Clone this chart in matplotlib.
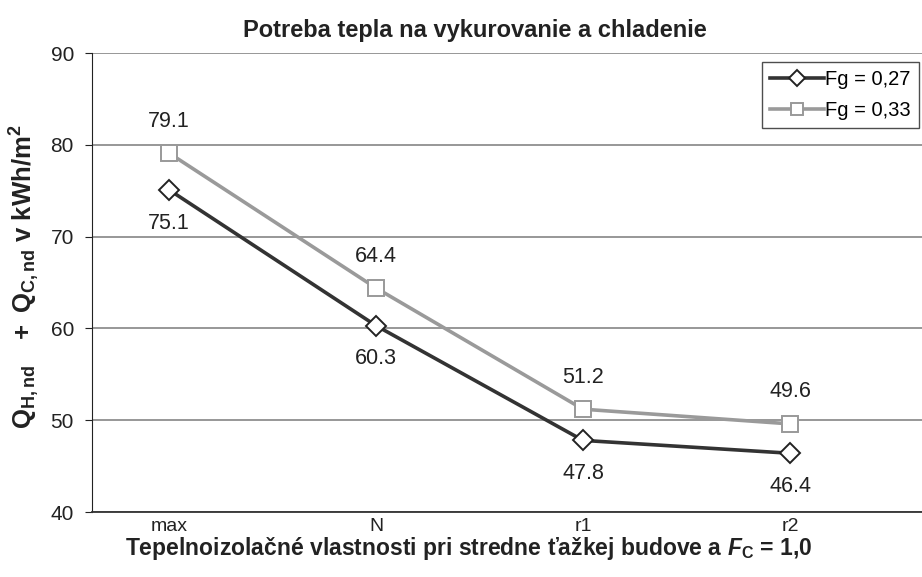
import matplotlib
matplotlib.use('Agg')
import matplotlib.pyplot as plt

plt.rcParams['font.family'] = ['Liberation Sans', 'DejaVu Sans']
plt.rcParams['mathtext.fontset'] = 'custom'
plt.rcParams['mathtext.rm'] = 'Liberation Sans'
plt.rcParams['mathtext.bf'] = 'Liberation Sans:bold'
plt.rcParams['mathtext.it'] = 'Liberation Sans:italic'
plt.rcParams['mathtext.bfit'] = 'Liberation Sans:italic:bold'

# data
categories = ['max', 'N', 'r1', 'r2']
fg_027 = [75.1, 60.3, 47.8, 46.4]
fg_033 = [79.1, 64.4, 51.2, 49.6]
yticks = [40, 50, 60, 70, 80, 90]

fig = plt.figure(figsize=(9.22, 5.77), dpi=100)
ax = fig.add_axes([92 / 922, 1 - 512 / 577, 1 - 92 / 922, (512 - 53) / 577])

x = list(range(len(categories)))
ax.plot(x, fg_027, color='#333333', lw=2.6, marker='D', ms=10, mfc='white',
        mec='#222222', mew=1.4, label='Fg = 0,27', zorder=3)
ax.plot(x, fg_033, color='#9a9a9a', lw=2.6, marker='s', ms=11, mfc='white',
        mec='#999999', mew=1.4, label='Fg = 0,33', zorder=3)

# value labels
for xi, v in zip(x, fg_027):
    ax.annotate(f'{v:.1f}', (xi, v), xytext=(0, -24), textcoords='offset points',
                ha='center', va='center', fontsize=15.5, color='#222222')
for xi, v in zip(x, fg_033):
    ax.annotate(f'{v:.1f}', (xi, v), xytext=(0, 23), textcoords='offset points',
                ha='center', va='center', fontsize=15.5, color='#222222')

ax.set_xlim(-77 / 207, (922 - 169) / 207)
ax.set_ylim(40, 90)
ax.set_yticks(yticks)
ax.set_xticks(x)
ax.set_xticklabels(categories)
ax.tick_params(axis='x', length=0, labelsize=14, pad=4, colors='#222222')
ax.tick_params(axis='y', length=5, labelsize=15, direction='out', pad=8,
               colors='#222222')
ax.yaxis.grid(True, color='#7a7a7a', lw=1.1)
ax.set_axisbelow(True)

for s in ['top', 'right']:
    ax.spines[s].set_visible(False)
ax.spines['left'].set_color('#222222')
ax.spines['bottom'].set_color('#333333')
ax.spines['bottom'].set_linewidth(1.3)

fig.text(475 / 922, 1 - 30 / 577, 'Potreba tepla na vykurovanie a chladenie',
         fontsize=17, fontweight='bold', ha='center', va='center', color='#222222')
fig.text(469 / 922, 1 - 549 / 577,
         r'Tepelnoizolačné vlastnosti pri stredne ťažkej budove a $\mathbfit{F}_{\mathbf{C}}$ = 1,0',
         fontsize=16.5, fontweight='bold', ha='center', va='center', color='#222222')
fig.text(25 / 922, 1 - 277 / 577, r'$\mathbf{Q_{H,nd}\ \ \ +\ Q_{C,nd}\ v\ kWh/m^2}$',
         fontsize=18.5, rotation=90, ha='center', va='center', color='#222222')

leg = ax.legend(loc='upper right', bbox_to_anchor=(1.0 - 3 / 830, 1.0 - 9 / 459),
                fontsize=14.5, frameon=True, fancybox=False, edgecolor='#222222',
                handlelength=2.7, handletextpad=0.05, borderpad=0.4, labelspacing=0.6,
                borderaxespad=0, markerscale=0.8)
leg.get_frame().set_linewidth(1.0)

fig.savefig('out.png', dpi=100)
